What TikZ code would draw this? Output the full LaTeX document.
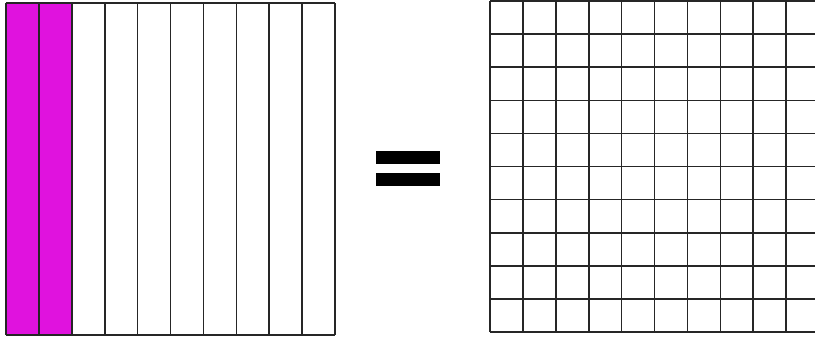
\documentclass[tikz,border=0pt]{standalone}
\usepackage{tikz}
\definecolor{fracmagenta}{RGB}{224,18,222}
\begin{document}
\begin{tikzpicture}[x=1pt,y=-1pt,line width=1.6pt]
  \clip (0,0) rectangle (815,338);
  \fill[white] (0,0) rectangle (815,338);

  % left square, two tenths shaded
  \fill[fracmagenta] (6,3) rectangle (71.8,335);
  \foreach \i in {0,...,10}
    \draw[black!85] ({6+32.9*\i},3) -- ({6+32.9*\i},335);
  \draw[black!85] (6,3) -- (335,3);
  \draw[black!85] (6,335) -- (335,335);

  % equals sign
  \fill[black] (376,151) rectangle (440,164);
  \fill[black] (376,173) rectangle (440,186);

  % right grid, hundredths
  \foreach \i in {0,...,10} {
    \draw[black!85] ({490+32.9*\i},1) -- ({490+32.9*\i},332);
    \draw[black!85] (490,{1+33.1*\i}) -- (830,{1+33.1*\i});
  }
\end{tikzpicture}
\end{document}
